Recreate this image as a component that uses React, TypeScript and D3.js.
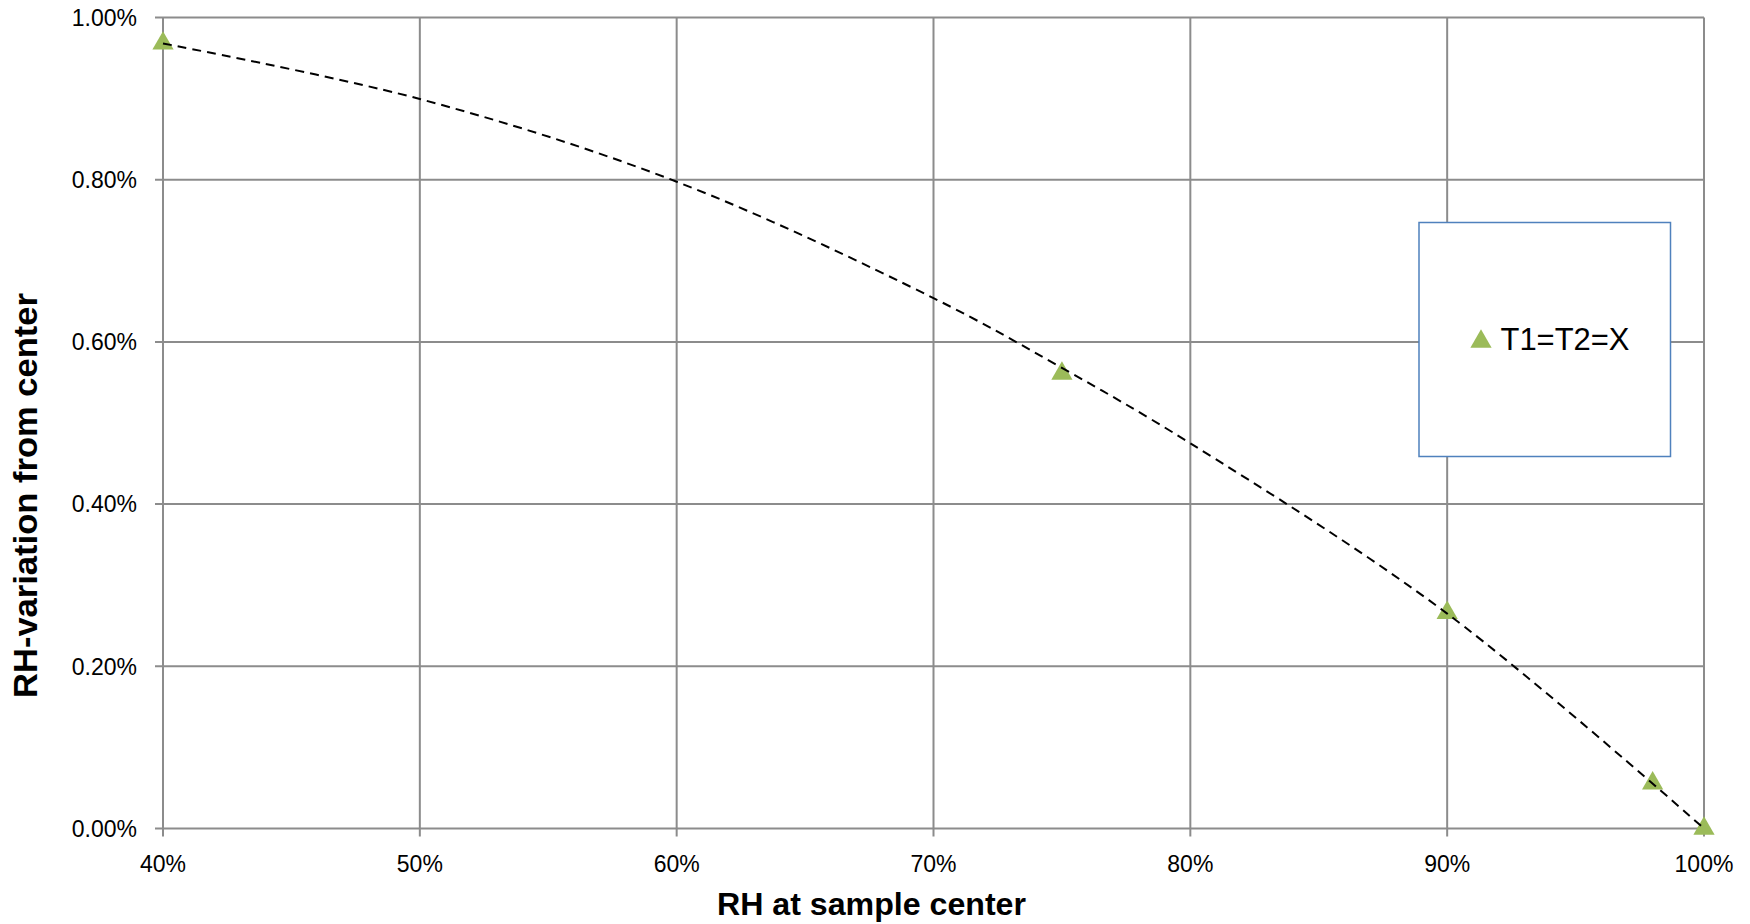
import React from "react";
import * as d3 from "d3";

const rhValues = [40, 75, 90, 98, 100];
const variationValues = [0.968, 0.561, 0.266, 0.0557, 0.0];
const trendRh = [40, 50, 60, 70, 75, 80, 90, 100];
const trendValues = [0.968, 0.8995, 0.7975, 0.654, 0.568, 0.475, 0.265, 0.0];
const xTicks = [40, 50, 60, 70, 80, 90, 100];
const yTicks = [0, 0.2, 0.4, 0.6, 0.8, 1.0];
const seriesName = "T1=T2=X";

const W = 1750;
const H = 924;
const M = { left: 163, right: 1704, top: 17.5, bottom: 828.5 };
const GRID = "#8c8c8c";
const GREEN = "#9bbb59";
const FONT = "'Liberation Sans', Arial, sans-serif";

export default function App() {
  const x = d3.scaleLinear().domain([40, 100]).range([M.left, M.right]);
  const y = d3.scaleLinear().domain([0, 1]).range([M.bottom, M.top]);
  const tri = d3.symbol().type(d3.symbolTriangle).size(195)() as string;
  const line = d3
    .line<number>()
    .x((_, i) => x(trendRh[i]))
    .y((d) => y(d))
    .curve(d3.curveCatmullRom.alpha(0.5));

  return (
    <svg
      width={W}
      height={H}
      style={{ position: "absolute", left: 0, top: 0, background: "#fff" }}
      fontFamily={FONT}
    >
      <rect x={0} y={0} width={W} height={H} fill="#fff" />
      {yTicks.map((t) => (
        <line
          key={"hy" + t}
          x1={M.left - 8}
          x2={M.right}
          y1={y(t)}
          y2={y(t)}
          stroke={GRID}
          strokeWidth={2}
        />
      ))}
      {xTicks.map((t) => (
        <line
          key={"vx" + t}
          x1={x(t)}
          x2={x(t)}
          y1={M.top}
          y2={M.bottom + 8}
          stroke={GRID}
          strokeWidth={2}
        />
      ))}
      {yTicks.map((t) => (
        <text
          key={"yl" + t}
          x={137}
          y={y(t) + 8.3}
          textAnchor="end"
          fontSize={23}
          fill="#000"
        >
          {t.toFixed(2) + "%"}
        </text>
      ))}
      {xTicks.map((t) => (
        <text
          key={"xl" + t}
          x={x(t)}
          y={872}
          textAnchor="middle"
          fontSize={23}
          fill="#000"
        >
          {t + "%"}
        </text>
      ))}
      {rhValues.map((r, i) => (
        <path
          key={"m" + r}
          d={tri}
          transform={`translate(${x(r)},${y(variationValues[i])})`}
          fill={GREEN}
        />
      ))}
      <path
        d={line(trendValues) as string}
        fill="none"
        stroke="#000"
        strokeWidth={2}
        strokeDasharray="9,6"
      />
      <rect
        x={1419}
        y={222.5}
        width={251.5}
        height={234}
        fill="#fff"
        stroke="#4f81bd"
        strokeWidth={1.5}
      />
      <path d={tri} transform="translate(1481,341.5)" fill={GREEN} />
      <text x={1500.5} y={350} fontSize={31} fill="#000" textLength={129} lengthAdjust="spacingAndGlyphs">
        {seriesName}
      </text>
      <text
        x={871.5}
        y={915}
        textAnchor="middle"
        fontSize={31.5}
        fontWeight="bold"
        fill="#000"
        textLength={309}
        lengthAdjust="spacingAndGlyphs"
      >
        RH at sample center
      </text>
      <text
        transform="translate(37,495.5) rotate(-90)"
        textAnchor="middle"
        fontSize={32.5}
        fontWeight="bold"
        fill="#000"
        textLength={405}
        lengthAdjust="spacingAndGlyphs"
      >
        RH-variation from center
      </text>
    </svg>
  );
}
